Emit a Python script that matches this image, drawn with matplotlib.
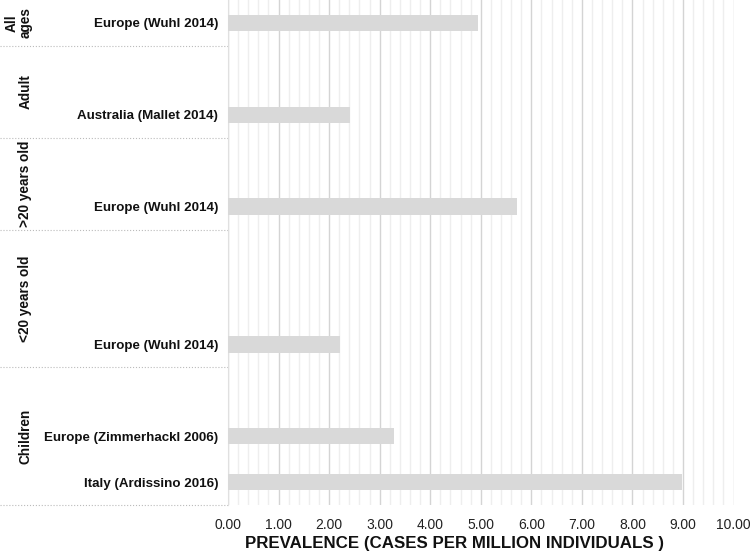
import matplotlib
matplotlib.use("Agg")
import matplotlib.pyplot as plt
from matplotlib.ticker import MultipleLocator

plt.rcParams['font.family'] = ['Liberation Sans', 'DejaVu Sans']

# rows top to bottom, '' = empty spacer row
studies = ["Europe (Wuhl 2014)", "", "Australia (Mallet 2014)", "",
           "Europe (Wuhl 2014)", "", "", "Europe (Wuhl 2014)", "",
           "Europe (Zimmerhackl 2006)", "Italy (Ardissino 2016)"]
prevalence = [4.95, None, 2.41, None, 5.72, None, None, 2.21, None, 3.29, 8.98]

groups = ["All\nages", "Adult", ">20 years old", "<20 years old", "Children"]
group_sizes = [1, 2, 2, 3, 3]

fig = plt.figure(figsize=(7.5, 5.52), dpi=100)
ax = fig.add_axes([0.304, 0.085, 0.674, 0.915])

rows = list(range(len(studies)))
vals = [v if v is not None else 0 for v in prevalence]
ax.barh(rows, vals, height=0.36, color="#d9d9d9", zorder=3)

ax.set_ylim(len(studies) - 0.5, -0.5)
ax.set_xlim(0, 10)
ax.set_yticks(rows)
ax.set_yticklabels(studies, fontsize=9.6, fontweight="bold", color="#111111")
ax.tick_params(axis="y", length=0, pad=7)

ax.xaxis.set_major_locator(MultipleLocator(1))
ax.xaxis.set_minor_locator(MultipleLocator(0.2))
ax.set_xticklabels(["%.2f" % t for t in ax.get_xticks()])
ax.tick_params(axis="x", which="both", length=0, labelsize=10,
               labelcolor="#222222", pad=9)
ax.grid(axis="x", which="major", color="#d4d4d4", linewidth=1.0, zorder=0)
ax.grid(axis="x", which="minor", color="#eeeeee", linewidth=1.0, zorder=0)

for s in ["top", "right", "bottom"]:
    ax.spines[s].set_visible(False)
ax.spines["left"].set_color("#e0e0e0")

ax.set_xlabel("PREVALENCE (CASES PER MILLION INDIVIDUALS )", fontsize=12.2,
              fontweight="bold", color="#111111", labelpad=3)
ax.xaxis.set_label_coords(0.448, -0.062)

# group labels and dotted separators left of the axes
trans = ax.get_yaxis_transform()
start = -0.5
for g, n in zip(groups, group_sizes):
    end = start + n
    gx = -0.414 if "\n" in g else -0.401
    ax.text(gx, (start + end) / 2, g, transform=trans, rotation=90,
            ha="center", va="center", fontsize=9.8, fontweight="bold",
            color="#111111", clip_on=False, linespacing=1.0)
    ax.plot([-0.452, 0], [end, end], transform=trans, color="#bbbbbb",
            linestyle=":", linewidth=0.8, clip_on=False)
    start = end

fig.savefig("out.png", dpi=100)
